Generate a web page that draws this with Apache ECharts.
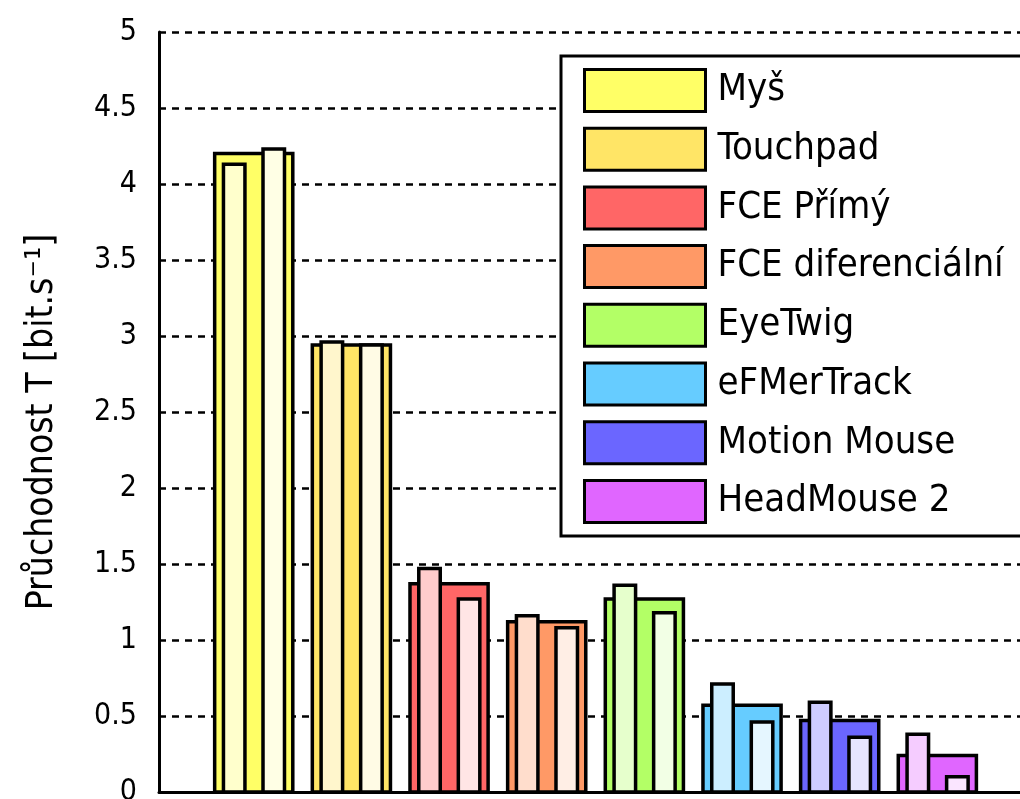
<!DOCTYPE html>
<html><head><meta charset="utf-8">
<script src="https://cdn.jsdelivr.net/npm/echarts@6/dist/echarts.min.js"></script>
<style>html,body{margin:0;padding:0;background:#fff}#c{width:1020px;height:799px}</style>
</head><body><div id="c"></div>
<script>
const categories = ['Myš','Touchpad','FCE Přímý','FCE diferenciální','EyeTwig','eFMerTrack','Motion Mouse','HeadMouse 2'];
const positions = [1, 2, 3, 4, 5, 6, 7, 8];
const mainValues  = [4.20, 2.94, 1.37, 1.12, 1.27, 0.57, 0.47, 0.24];
const leftValues  = [4.13, 2.96, 1.47, 1.16, 1.36, 0.71, 0.59, 0.38];
const rightValues = [4.23, 2.94, 1.27, 1.08, 1.18, 0.46, 0.36, 0.10];
const yMin = 0, yMax = 5, yStep = 0.5;

const mainColors = ['#ffff66','#ffe566','#ff6666','#ff9966','#b3ff66','#66ccff','#6b66ff','#e066ff'];
function tint(hex, t){
  const n = parseInt(hex.slice(1),16);
  const r=(n>>16)&255,g=(n>>8)&255,b=n&255;
  const f=c=>Math.round(c+(255-c)*t);
  return 'rgb('+f(r)+','+f(g)+','+f(b)+')';
}
const FONT = "'Liberation Sans Narrow','DejaVu Sans Condensed','Roboto Condensed',sans-serif";

function makeRender(i){
  const cMain = mainColors[i], cLeft = tint(mainColors[i], 0.667), cRight = tint(mainColors[i], 0.833);
  return function(params, api){
    const x = api.value(0);
    const unit = api.size([1, 0])[0];
    const base = api.coord([x, 0]);
    function rect(val, off, w, fill){
      const top = api.coord([x, val]);
      const cx = base[0] + off * unit;
      return {type:'rect', shape:{x: cx - w*unit/2, y: top[1], width: w*unit, height: base[1]-top[1]},
              style:{fill: fill, stroke:'#000', lineWidth: 3.5}};
    }
    return {type:'group', children:[
      rect(api.value(1), 0, 0.8, cMain),
      rect(api.value(2), -0.2, 0.22, cLeft),
      rect(api.value(3), 0.205, 0.22, cRight)
    ]};
  };
}

const series = categories.map((name, i) => ({
  type: 'custom',
  name: name,
  renderItem: makeRender(i),
  itemStyle: {color: mainColors[i], borderColor:'#000', borderWidth: 3},
  encode: {x: 0, y: [1, 2, 3]},
  data: [[positions[i], mainValues[i], leftValues[i], rightValues[i]]],
  animation: false
}));

const chart = echarts.init(document.getElementById('c'));
chart.setOption({
  animation: false,
  backgroundColor: '#fff',
  grid: {left: 159, top: 32, width: 876, height: 760, containLabel: false, outerBoundsMode: 'none'},
  xAxis: {
    type: 'value', min: 0.03, max: 9,
    axisLine: {show: true, lineStyle: {color: '#000', width: 3}},
    axisTick: {show: false}, axisLabel: {show: false}, splitLine: {show: false}
  },
  yAxis: {
    type: 'value', min: yMin, max: yMax, interval: yStep,
    name: 'Průchodnost T [bit.s⁻¹]',
    nameLocation: 'middle', nameGap: 98, nameRotate: 90,
    nameTextStyle: {fontFamily: FONT, fontSize: 37, color: '#000', padding: [0, 20, 0, 0]},
    axisLine: {show: true, lineStyle: {color: '#000', width: 3}},
    axisTick: {show: false},
    axisLabel: {fontFamily: FONT, fontSize: 30, color: '#000', margin: 22},
    splitLine: {show: true, lineStyle: {color: '#000', width: 2.5, type: [7, 6]}}
  },
  legend: {
    data: categories,
    orient: 'vertical', left: 561, top: 56,
    icon: 'rect', itemWidth: 121, itemHeight: 42, itemGap: 13.7,
    padding: [12, 600, 12, 22],
    backgroundColor: '#fff', borderColor: '#000', borderWidth: 3,
    itemStyle: {borderColor: '#000', borderWidth: 3},
    textStyle: {fontFamily: FONT, fontSize: 38, color: '#000', padding: [0, 0, 12, 7]}
  },
  series: series
});
</script></body></html>
